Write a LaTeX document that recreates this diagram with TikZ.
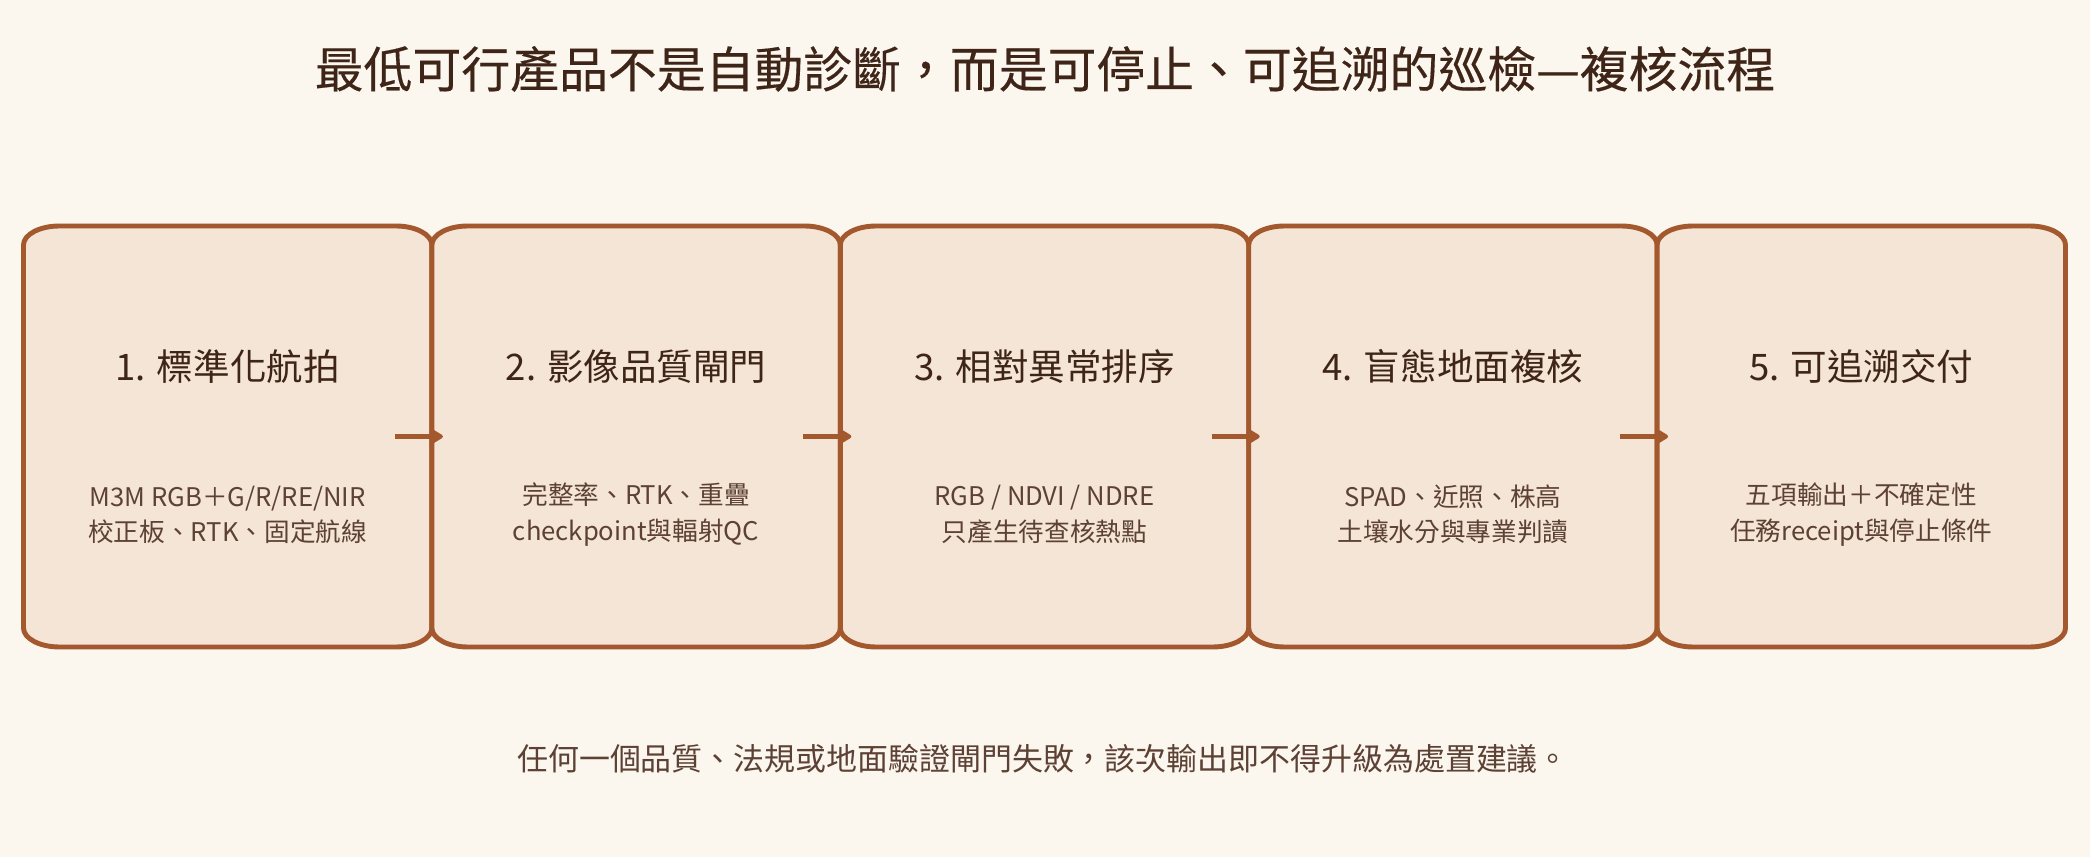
\documentclass[tikz,border=0pt]{standalone}
\usepackage{fontspec}
\setmainfont{Noto Sans CJK TC}
\newfontfamily\headfont[FakeBold=0.3]{Noto Sans CJK TC}
\usepackage{tikz}
\usetikzlibrary{arrows.meta,positioning}
\usepackage{xcolor}
\definecolor{Cream}{HTML}{FBF6EE}
\definecolor{Sand}{HTML}{F5E5D6}
\definecolor{Rust}{HTML}{A3592D}
\definecolor{Umber}{HTML}{3E2518}
\definecolor{Cocoa}{HTML}{5C4134}
\tikzset{
  stagebox/.style={rectangle,minimum width=4.084cm,minimum height=4.21cm,
    inner sep=0pt,outer sep=0pt},
  stageline/.style={draw=Rust,line width=1.4pt,fill=Sand,line join=round},
  stagetitle/.style={text=Umber,font=\fontsize{10.4}{12}\selectfont},
  stagenote/.style={text=Cocoa,align=center,font=\fontsize{7.3}{10}\selectfont},
  flowarrow/.style={draw=Rust,line width=1.6pt,
    -{Triangle[length=0.15cm,width=0.17cm,round]}}
}
% frame with wide, flat corners round a stage node
\newcommand{\stageframe}[1]{%
  \draw[stageline] ([xshift=0.36cm]#1.north west) -- ([xshift=-0.36cm]#1.north east)
    arc[start angle=90,end angle=0,x radius=0.36cm,y radius=0.19cm]
    -- ([yshift=0.19cm]#1.south east)
    arc[start angle=0,end angle=-90,x radius=0.36cm,y radius=0.19cm]
    -- ([xshift=0.36cm]#1.south west)
    arc[start angle=270,end angle=180,x radius=0.36cm,y radius=0.19cm]
    -- ([yshift=-0.19cm]#1.north west)
    arc[start angle=180,end angle=90,x radius=0.36cm,y radius=0.19cm] -- cycle;}

\begin{document}
\begin{tikzpicture}
    \fill[Cream] (0,0) rectangle (20.90,8.57);
    \useasboundingbox (0,0) rectangle (20.90,8.57);

    \node[text=Umber,font=\headfont\fontsize{13.9}{16}\selectfont] (head) at (10.45,7.88)
        {最低可行產品不是自動診斷，而是可停止、可追溯的巡檢—複核流程};

    \node[stagebox] (s1) at (2.277,4.205) {};
    \node[stagebox,right=0cm of s1] (s2) {};
    \node[stagebox,right=0cm of s2] (s3) {};
    \node[stagebox,right=0cm of s3] (s4) {};
    \node[stagebox,right=0cm of s4] (s5) {};
    \stageframe{s1}
    \stageframe{s2}
    \stageframe{s3}
    \stageframe{s4}
    \stageframe{s5}

    \node[stagetitle] (t1) at ([yshift=0.7cm]s1.center) {1. 標準化航拍};
    \node[stagetitle] (t2) at ([yshift=0.7cm]s2.center) {2. 影像品質閘門};
    \node[stagetitle] (t3) at ([yshift=0.7cm]s3.center) {3. 相對異常排序};
    \node[stagetitle] (t4) at ([yshift=0.7cm]s4.center) {4. 盲態地面複核};
    \node[stagetitle] (t5) at ([yshift=0.7cm]s5.center) {5. 可追溯交付};

    \node[stagenote] (n1) at ([yshift=-0.78cm]s1.center) {M3M RGB＋G/R/RE/NIR\\校正板、RTK、固定航線};
    \node[stagenote] (n2) at ([yshift=-0.78cm]s2.center) {完整率、RTK、重疊\\checkpoint與輻射QC};
    \node[stagenote] (n3) at ([yshift=-0.78cm]s3.center) {RGB / NDVI / NDRE\\只產生待查核熱點};
    \node[stagenote] (n4) at ([yshift=-0.78cm]s4.center) {SPAD、近照、株高\\土壤水分與專業判讀};
    \node[stagenote] (n5) at ([yshift=-0.78cm]s5.center) {五項輸出＋不確定性\\任務receipt與停止條件};

    \draw[flowarrow] ([xshift=-0.37cm]s1.east) -- ([xshift=0.11cm]s2.west);
    \draw[flowarrow] ([xshift=-0.37cm]s2.east) -- ([xshift=0.11cm]s3.west);
    \draw[flowarrow] ([xshift=-0.37cm]s3.east) -- ([xshift=0.11cm]s4.west);
    \draw[flowarrow] ([xshift=-0.37cm]s4.east) -- ([xshift=0.11cm]s5.west);

    \node[text=Cocoa,font=\fontsize{8.8}{10}\selectfont] (foot) at (10.43,0.98)
        {任何一個品質、法規或地面驗證閘門失敗，該次輸出即不得升級為處置建議。};
\end{tikzpicture}
\end{document}
